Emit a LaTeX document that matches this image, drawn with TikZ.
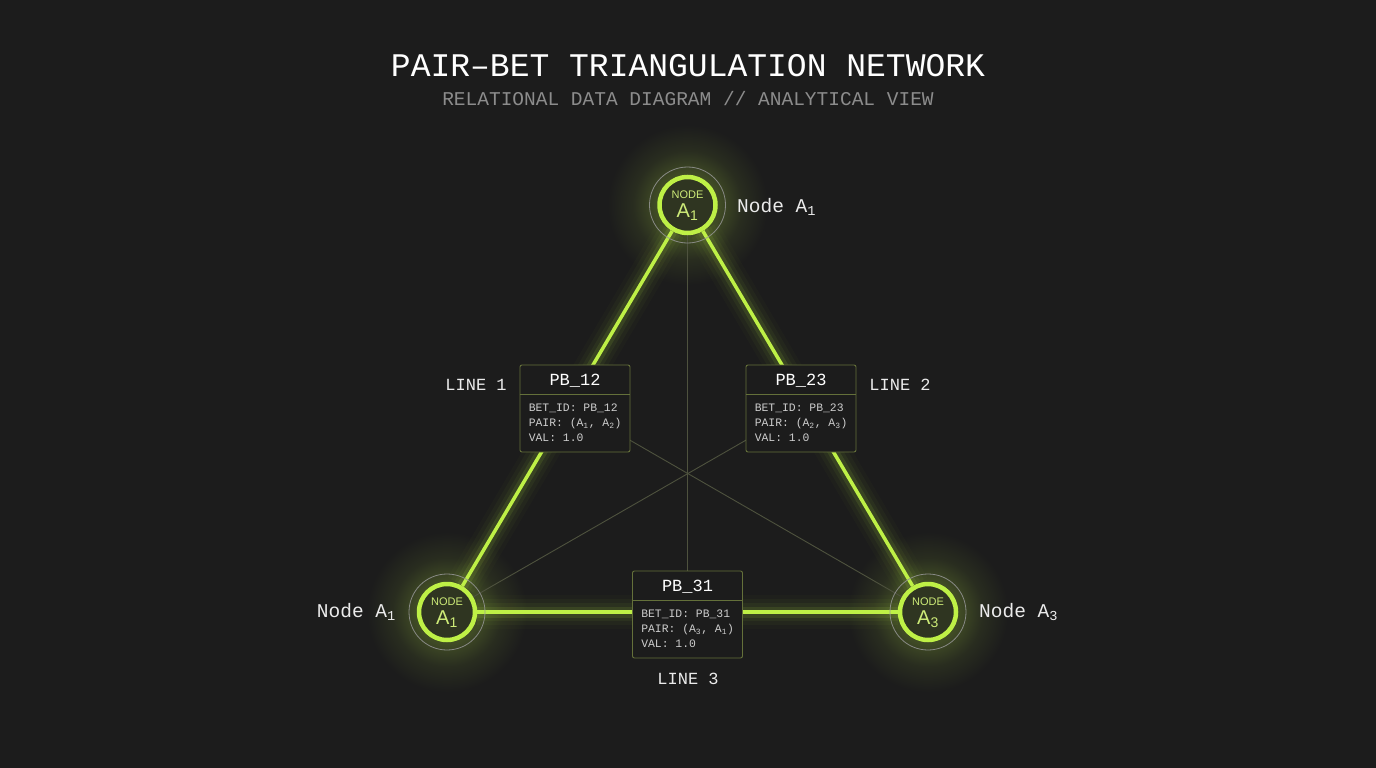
\documentclass[tikz,border=0pt]{standalone}
\usepackage{fontspec}
\setmainfont{Liberation Sans}
\newfontfamily\monof{Liberation Mono}
\newfontfamily\sansf{Liberation Sans}
\usetikzlibrary{calc}
\definecolor{bg}{RGB}{28,28,28}
\definecolor{lime}{RGB}{190,240,70}
\definecolor{limetext}{RGB}{205,235,120}
\definecolor{boxline}{RGB}{100,112,58}
\definecolor{mediancol}{RGB}{78,82,62}
\definecolor{ringgray}{RGB}{150,150,150}
\definecolor{subgray}{RGB}{140,140,140}
\definecolor{bodytext}{RGB}{205,205,205}
\definecolor{labeltext}{RGB}{235,235,235}
\pgfdeclareradialshading{nodeglow}{\pgfpoint{0bp}{0bp}}{color(0bp)=(lime!30!bg); color(10bp)=(lime!22!bg); color(17bp)=(lime!8!bg); color(25bp)=(bg); color(50bp)=(bg)}
\pgfdeclarelayer{back}
\pgfdeclarelayer{edges}
\pgfsetlayers{back,edges,main}
\newcommand\mkbox[5]{%
  \node[pbbox] (#1) at (#2) {};
  \node[hdrtext] (#1h) at ($(#1.north)+(0,16)$) {#3};
  \draw[boxline, line width=0.9pt] ($(#1.north west)+(0,30)$) -- ($(#1.north east)+(0,30)$);
  \node[bodyfont] (#1b) at ($(#1.north west)+(9,39)$) {BET\_ID: #3\\PAIR: (A\textsubscript{#4}, A\textsubscript{#5})\\VAL: 1.0};
}
\begin{document}
\begin{tikzpicture}[x=1pt,y=-1pt,
  ring/.style={circle, draw=lime, line width=4.5pt, fill=bg!88!lime, minimum size=56pt, inner sep=0pt},
  halo/.style={draw=ringgray, line width=0.8pt, opacity=0.85},
  edge/.style={draw=lime, line width=3.5pt},
  edgeglow/.style={draw=lime, line width=#1},
  mline/.style={draw=mediancol, line width=0.9pt},
  pbbox/.style={draw=boxline, line width=0.9pt, fill=bg, rounded corners=2pt, minimum width=110pt, minimum height=87pt, inner sep=0pt},
  hdrtext/.style={font=\monof\fontsize{17}{20}\selectfont, text=white, inner sep=0pt},
  bodyfont/.style={font=\monof\fontsize{11.4}{15}\selectfont, text=bodytext, inner sep=0pt, anchor=north west, align=left},
  nlabel/.style={font=\monof\fontsize{19.5}{22}\selectfont, text=labeltext, inner sep=0pt},
  llabel/.style={font=\monof\fontsize{17}{20}\selectfont, text=labeltext, inner sep=0pt},
  intop/.style={font=\sansf\fontsize{11}{12}\selectfont, text=limetext, inner sep=0pt},
  inbig/.style={font=\sansf\fontsize{20}{22}\selectfont, text=limetext, inner sep=0pt}
]
\useasboundingbox (0,0) rectangle (1376,768);
\coordinate (pT) at (687.5,205);
\coordinate (pL) at (447,612);
\coordinate (pR) at (928,612);

\begin{pgfonlayer}{back}
\fill[bg] (0,0) rectangle (1376,768);
\foreach \p in {pT,pL,pR}{
  \shade[shading=nodeglow] (\p) circle (80);
}
\end{pgfonlayer}

% title
\node[font=\monof\fontsize{33}{36}\selectfont, text=white, inner sep=0pt] (title) at (688,66) {PAIR–BET TRIANGULATION NETWORK};
\node[font=\monof\fontsize{19.5}{22}\selectfont, text=subgray, inner sep=0pt] (subtitle) at (688,99) {RELATIONAL DATA DIAGRAM // ANALYTICAL VIEW};

% nodes
\node[ring] (T) at (pT) {};
\node[ring] (L) at (pL) {};
\node[ring] (R) at (pR) {};
\foreach \n in {T,L,R}{ \draw[halo] (\n.center) circle (38); }
\node[intop] (Tt) at ($(T.center)+(0,-10)$) {NODE};
\node[inbig] (Ta) at ($(T.center)+(0,7)$) {A\textsubscript{1}};
\node[intop] (Lt) at ($(L.center)+(0,-10)$) {NODE};
\node[inbig] (La) at ($(L.center)+(0,7)$) {A\textsubscript{1}};
\node[intop] (Rt) at ($(R.center)+(0,-10)$) {NODE};
\node[inbig] (Ra) at ($(R.center)+(0,7)$) {A\textsubscript{3}};

% boxes
\mkbox{b12}{575,408.5}{PB\_12}{1}{2}
\mkbox{b23}{801,408.5}{PB\_23}{2}{3}
\mkbox{b31}{687.5,614.5}{PB\_31}{3}{1}

% edges
\begin{pgfonlayer}{edges}
\foreach \w/\o in {34/0.02,26/0.035,18/0.05,11/0.1}{
  \draw[edgeglow=\w pt, opacity=\o] (T) -- (L);
  \draw[edgeglow=\w pt, opacity=\o] (T) -- (R);
  \draw[edgeglow=\w pt, opacity=\o] (L) -- (R);
}
\draw[mline] (T) -- (b31);
\draw[mline] (L) -- (b23.center);
\draw[mline] (R) -- (b12.center);
\draw[edge] (T) -- (L);
\draw[edge] (T) -- (R);
\draw[edge] (L) -- (R);
\end{pgfonlayer}

% labels
\node[nlabel, anchor=west] (lT) at (737,207) {Node A\textsubscript{1}};
\node[nlabel, anchor=east] (lL) at (396,612) {Node A\textsubscript{1}};
\node[nlabel, anchor=west] (lR) at (979,612) {Node A\textsubscript{3}};
\node[llabel] (line1) at (476,385) {LINE 1};
\node[llabel] (line2) at (900,385) {LINE 2};
\node[llabel] (line3) at (688,679) {LINE 3};
\end{tikzpicture}
\end{document}
